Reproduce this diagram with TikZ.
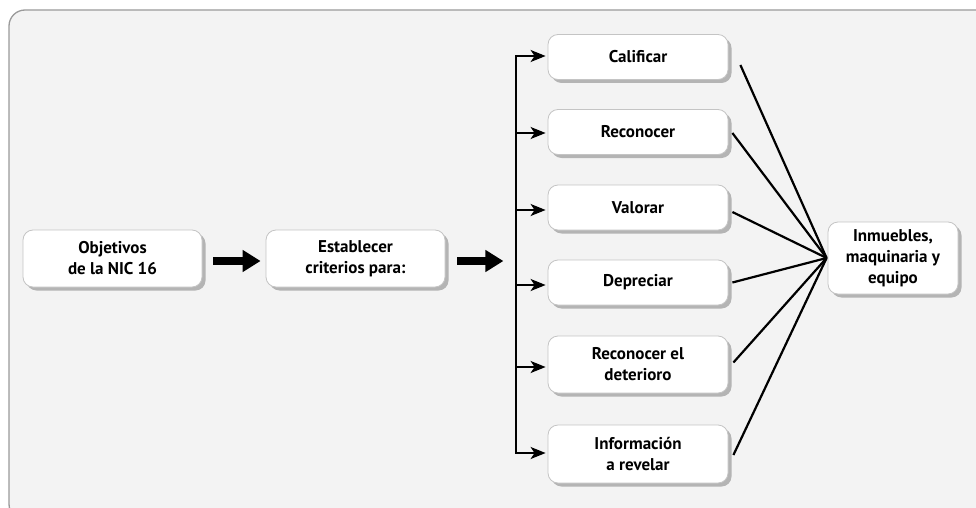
\documentclass[tikz,border=0pt]{standalone}
\usepackage{fontspec}
\setmainfont{PT Sans}
\usetikzlibrary{arrows.meta,shadows,calc}
\definecolor{panel}{HTML}{F3F3F3}
\definecolor{panelrule}{HTML}{9A9A9A}
\definecolor{boxrule}{HTML}{C4C4C4}
\definecolor{boxshade}{HTML}{B4B4B4}
\tikzset{
  card/.style={draw=boxrule, line width=0.8pt, fill=white, rounded corners=10pt,
    inner sep=0pt, align=center, font=\fontsize{17}{21}\selectfont\bfseries,
    drop shadow={shadow xshift=3.5pt, shadow yshift=-3.5pt, fill=boxshade, opacity=1}},
  wide/.style={card, minimum width=179pt, minimum height=57pt},
  item/.style={card, minimum width=180pt},
  bigarrow/.style={line width=8pt, -{Triangle[length=18pt,width=21pt]}},
  branch/.style={line width=2pt, -{Stealth[length=15pt,width=12pt,inset=4pt]}},
  spoke/.style={line width=2.2pt},
}
\begin{document}
\begin{tikzpicture}[x=1pt,y=-1pt]
  \useasboundingbox (0,0) rectangle (976,508);
  \clip (0,0) rectangle (976,508);
  % background panel
  \draw[panelrule, line width=1.3pt, fill=panel, rounded corners=16pt] (9,10) rectangle (995,520);

  % left chain
  \node[wide] (obj) at (112.5,258.5) {Objetivos\\de la NIC 16};
  \node[wide] (est) at (355.5,258.5) {Establecer\\criterios para:};

  % criteria
  \node[item, minimum height=45pt] (cal) at (638,57)    {Calificar};
  \node[item, minimum height=45pt] (rec) at (638,132)   {Reconocer};
  \node[item, minimum height=45pt] (val) at (638,207.5) {Valorar};
  \node[item, minimum height=45pt] (dep) at (638,282.5) {Depreciar};
  \node[item, minimum height=57pt] (det) at (638,364.5) {Reconocer el\\deterioro};
  \node[item, minimum height=58pt] (inf) at (638,454)   {Información\\a revelar};

  % subject
  \node[card, minimum width=130pt, minimum height=72pt] (inm) at (893,258)
    {Inmuebles,\\maquinaria y\\equipo};

  % thick arrows
  \draw[bigarrow] ($(obj.east)+(11,2.5)$) -- ($(est.west)+(-5,2.5)$);
  \coordinate (fork) at ($(est.east)+(12,2.5)$);
  \draw[bigarrow] (fork) -- ++(46,0);

  % distribution spine
  \coordinate (top) at (516,56);
  \coordinate (bot) at (516,454);
  \draw[line width=2pt] (top) -- (bot);
  \foreach \n/\dy in {cal/-1, rec/1, val/2.5, dep/2.5, det/2.5, inf/-1}
    \draw[branch] ($(top |- \n.west)+(-1,\dy)$) -- ($(\n.west)+(-2,\dy)$);

  % spokes into the subject box
  \coordinate (hub) at ($(inm.west)+(-1,0)$);
  \draw[spoke] ($(cal.east)+(12,8)$)  -- (hub);
  \draw[spoke] ($(rec.east)+(4,1)$)   -- (hub);
  \draw[spoke] ($(val.east)+(4,4.5)$) -- (hub);
  \draw[spoke] ($(dep.east)+(4,0)$)   -- (hub);
  \draw[spoke] ($(det.east)+(5,-2)$)  -- (hub);
  \draw[spoke] ($(inf.east)+(5,1)$)   -- (hub);
\end{tikzpicture}
\end{document}
